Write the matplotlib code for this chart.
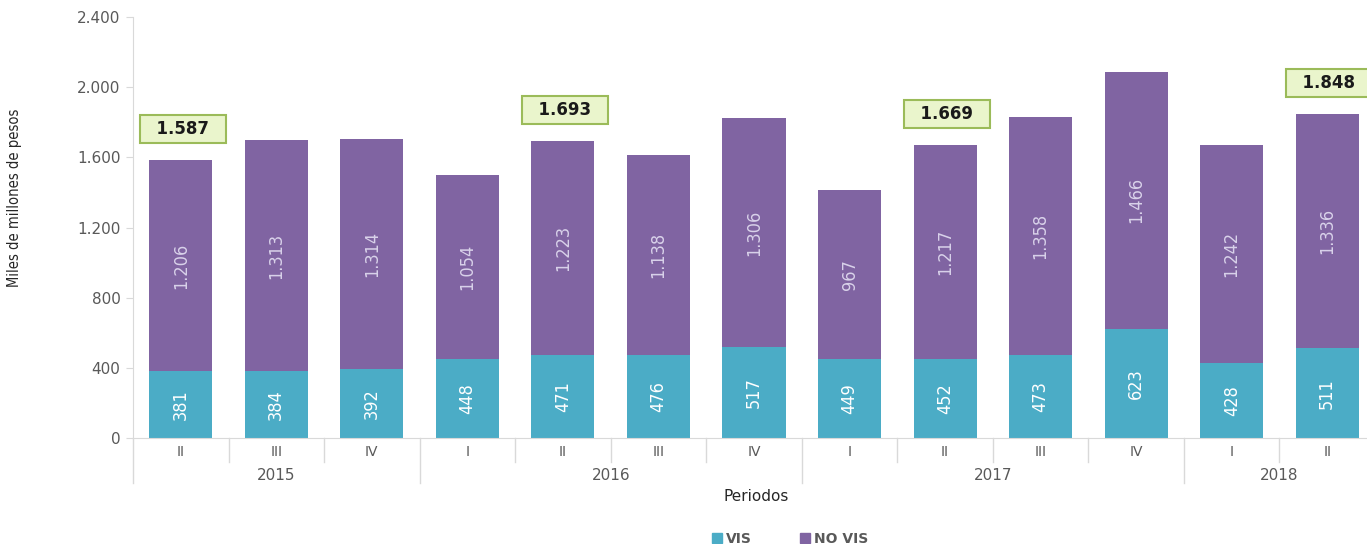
import matplotlib.pyplot as plt
import matplotlib.transforms as mtransforms
from matplotlib.patches import Patch
import numpy as np

# Datos por trimestre (miles de millones de pesos)
trimestres = ['II', 'III', 'IV', 'I', 'II', 'III', 'IV', 'I', 'II', 'III', 'IV', 'I', 'II']
anios = ['2015', '2016', '2017', '2018']
trim_por_anio = [3, 4, 4, 2]
vis = [381, 384, 392, 448, 471, 476, 517, 449, 452, 473, 623, 428, 511]
no_vis = [1206, 1313, 1314, 1054, 1223, 1138, 1306, 967, 1217, 1358, 1466, 1242, 1336]
destacados = [0, 4, 8, 12]
totales_destacados = [1587, 1693, 1669, 1848]

c_vis = '#4BACC6'
c_novis = '#8064A2'
gris = '#595959'


def fmt(v):
    return f'{v:,}'.replace(',', '.')


fig = plt.figure(figsize=(13.67, 5.44), dpi=100)
ax = fig.add_axes([133 / 1367, 106 / 544, (1375 - 133) / 1367, 421 / 544])

x = np.arange(len(trimestres))
vis = np.array(vis)
no_vis = np.array(no_vis)
total = vis + no_vis

ax.bar(x, vis, width=0.66, color=c_vis, zorder=2)
ax.bar(x, no_vis, width=0.66, bottom=vis, color=c_novis, zorder=2)

for i in x:
    ax.text(i, vis[i] / 2, fmt(vis[i]), rotation=90, ha='center', va='center',
            color='white', fontsize=13, stretch='condensed')
    ax.text(i, vis[i] + no_vis[i] / 2, fmt(no_vis[i]), rotation=90, ha='center',
            va='center', color='#D9D2EA', fontsize=13, stretch='condensed')

for i, v in zip(destacados, totales_destacados):
    ax.annotate('  ' + fmt(v) + '  ', xy=(i, total[i]), xytext=(2, 22), textcoords='offset pixels',
                ha='center', va='bottom', fontsize=12, fontweight='bold', color='#1a1a1a',
                bbox=dict(boxstyle='square,pad=0.3', fc='#EAF5CC', ec='#9BBB59', lw=1.5),
                annotation_clip=False)

ax.set_xlim(-0.5, len(trimestres) - 0.5)
ax.set_ylim(0, 2400)
ax.set_yticks(np.arange(0, 2401, 400))
ax.set_yticklabels([fmt(v) for v in range(0, 2401, 400)], color=gris, fontsize=11)
ax.tick_params(axis='y', length=5, color='#d9d9d9', pad=4)
ax.set_xticks([])

for s in ['top', 'right']:
    ax.spines[s].set_visible(False)
ax.spines['left'].set_color('#d9d9d9')
ax.spines['bottom'].set_color('#d9d9d9')
ax.set_ylabel('Miles de millones de pesos', fontsize=10.5, stretch='condensed', color='#262626')
ax.yaxis.set_label_coords(-(133 - 22) / 1242, 0.57)

tr = mtransforms.blended_transform_factory(ax.transData, ax.transAxes)
for i, t in enumerate(trimestres):
    ax.text(i, -0.033, t, transform=tr, ha='center', va='center', color=gris, fontsize=10)

# separadores y etiquetas de año
inicio = 0
for anio, n in zip(anios, trim_por_anio):
    ax.plot([inicio - 0.5] * 2, [0, -0.107], transform=tr, color='#d9d9d9', lw=1, clip_on=False)
    for k in range(1, n):
        ax.plot([inicio + k - 0.5] * 2, [0, -0.057], transform=tr, color='#d9d9d9', lw=1, clip_on=False)
    ax.text(inicio + (n - 1) / 2, -0.088, anio, transform=tr, ha='center', va='center',
            color=gris, fontsize=11)
    inicio += n

ax.text(0.5 * (1367 - 133) / (1375 - 133) + 0.005, -0.138, 'Periodos', transform=ax.transAxes,
        ha='center', va='center', fontsize=11, color='#262626')

handles = [Patch(color=c_vis, label='VIS'), Patch(color=c_novis, label='NO VIS')]
leg = fig.legend(handles=handles, loc='center', bbox_to_anchor=(0.578, 0.01), ncol=2,
                 frameon=False, handlelength=0.7, handleheight=0.7, handletextpad=0.3,
                 columnspacing=3.5, prop={'size': 10, 'weight': 'bold'})
for t in leg.get_texts():
    t.set_color(gris)

fig.savefig('out.png', dpi=100)
